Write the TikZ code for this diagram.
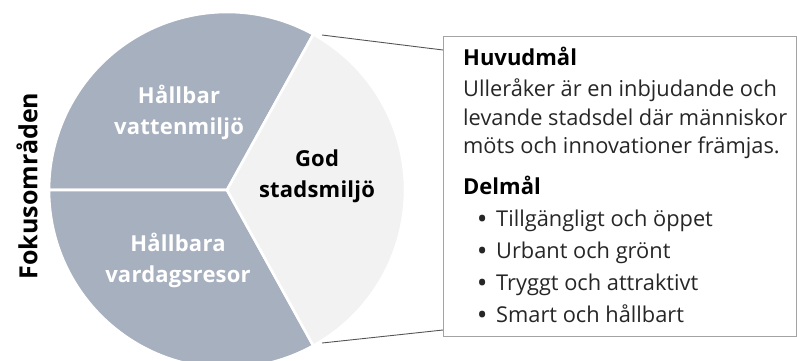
\documentclass[tikz,border=0pt]{standalone}
\usepackage{fontspec}
\setmainfont{Open Sans}
\usetikzlibrary{positioning}
\definecolor{pieblue}{HTML}{A7B0BF}
\definecolor{pielight}{HTML}{F2F2F2}
\definecolor{boxgray}{HTML}{A3A3A3}
\definecolor{linegray}{HTML}{555555}

\begin{document}
\begin{tikzpicture}[x=1pt,y=-1pt,
  wedge/.style={draw=white,line width=2.6pt,line join=round},
  areatext/.style={font=\bfseries\fontsize{22}{31}\selectfont\addfontfeatures{LetterSpace=1},align=center,inner sep=0pt},
  headtext/.style={font=\bfseries\fontsize{22}{25}\selectfont,anchor=base west,inner sep=0pt},
  bodytext/.style={font=\fontsize{21.8}{25}\selectfont,anchor=base west,inner sep=0pt,text=black!85},
  callout/.style={draw=linegray,line width=0.9pt}]
\useasboundingbox (0,0) rectangle (797,360);

% pie
\coordinate (C) at (227,190);
\filldraw[wedge,fill=pieblue] (C) -- ++(-61:178) arc[start angle=-61,end angle=-180,radius=178] -- cycle;
\filldraw[wedge,fill=pieblue] (C) -- ++(-180:178) arc[start angle=-180,end angle=-299,radius=178] -- cycle;
\filldraw[wedge,fill=pielight] (C) -- ++(61:178) arc[start angle=61,end angle=-61,radius=178] -- cycle;
\coordinate (topv) at (322,35);
\coordinate (botv) at (322,343);

\node[areatext,text=white] (vatten) at (179,112) {Hållbar\\vattenmiljö};
\node[areatext,text=white] (resor) at (178,260) {Hållbara\\vardagsresor};
\node[areatext,text=black] (stad) at (317,176) {God\\stadsmiljö};
\node[font=\bfseries\fontsize{25}{28}\selectfont,rotate=90] (fokus) at (27,186) {Fokusområden};

% box with goals
\node[draw=boxgray,line width=1.3pt,minimum width=353,minimum height=300,anchor=north west,inner sep=0pt] (goalbox) at (443,36) {};
\coordinate (topend) at (443,50);
\coordinate (botend) at (443,330);
\draw[callout] (topv) -- (topend);
\draw[callout] (botv) -- (botend);

\node[headtext] (huvud) at (463,65) {Huvudmål};
\node[bodytext] (line1) at (463,96) {Ulleråker är en inbjudande och};
\node[bodytext] (line2) at (463,125) {levande stadsdel där människor};
\node[bodytext] (line3) at (463,153) {möts och innovationer främjas.};
\node[headtext] (delmal) at (463,194) {Delmål};
\foreach \txt [count=\i] in {Tillgängligt och öppet,Urbant och grönt,Tryggt och attraktivt,Smart och hållbart}
  \node[bodytext] (mal\i) at (478,194+32*\i) {\makebox[18pt][l]{\bfseries\textbullet}\txt};
\end{tikzpicture}
\end{document}
